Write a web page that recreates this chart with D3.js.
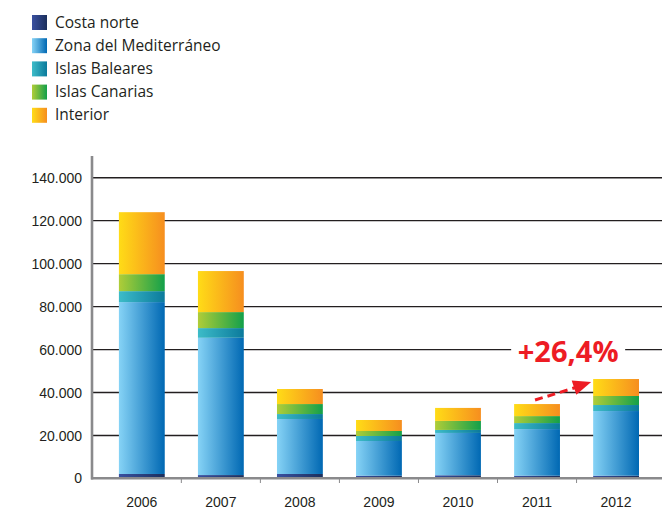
<!DOCTYPE html>
<html>
<head>
<meta charset="utf-8">
<script src="https://cdn.jsdelivr.net/npm/d3@7/dist/d3.min.js"></script>
<style>
  html, body { margin: 0; padding: 0; background: #fff; }
  svg { display: block; font-family: "Open Sans", "Noto Sans", sans-serif; }
</style>
</head>
<body>
<svg id="chart" width="662" height="510"></svg>
<script>
// Stacked totals per year by region
const years = ["2006", "2007", "2008", "2009", "2010", "2011", "2012"];
const seriesNames = ["Costa norte", "Zona del Mediterráneo", "Islas Baleares", "Islas Canarias", "Interior"];
const costaNorte    = [2100, 1600, 2100, 1300, 1500, 1300, 1300];
const mediterraneo  = [80000, 63900, 25600, 16150, 19700, 21700, 30100];
const baleares      = [5100, 4500, 2300, 2330, 1400, 2800, 2800];
const canarias      = [7900, 7450, 4650, 2330, 4200, 3250, 4200];
const interior      = [28850, 19100, 7000, 5120, 6050, 5600, 7900];
const yTicks = [0, 20000, 40000, 60000, 80000, 100000, 120000, 140000];
const yTickLabels = ["0", "20.000", "40.000", "60.000", "80.000", "100.000", "120.000", "140.000"];
const growthLabel = "+26,4%";

const seriesValues = [costaNorte, mediterraneo, baleares, canarias, interior];
// left / right colours of each segment's horizontal gradient
const gradStops = [
  ["#3a50a0", "#1b2f5c"],
  ["#86d3f6", "#0068b3"],
  ["#3dbcc8", "#0b7a9c"],
  ["#b0cd38", "#13a04a"],
  ["#ffdc17", "#f68e1f"]
];

const svg = d3.select("#chart");
const defs = svg.append("defs");
gradStops.forEach((c, i) => {
  const g = defs.append("linearGradient").attr("id", "g" + i)
    .attr("x1", "0%").attr("x2", "100%").attr("y1", "0%").attr("y2", "0%");
  g.append("stop").attr("offset", "0%").attr("stop-color", c[0]);
  g.append("stop").attr("offset", "100%").attr("stop-color", c[1]);
});

const rows = years.map((y, i) => {
  const r = { year: y };
  seriesNames.forEach((s, k) => r[s] = seriesValues[k][i]);
  return r;
});
const stacked = d3.stack().keys(seriesNames)(rows);

const x = d3.scaleBand().domain(years).range([102.3, 655.6]).paddingInner(0.42).paddingOuter(0.21);
const y = d3.scaleLinear().domain([0, 140000]).range([478.5, 177.7]);

// gridlines
svg.append("g").selectAll("line").data(yTicks.slice(1)).join("line")
  .attr("x1", 93).attr("x2", 662)
  .attr("y1", d => y(d)).attr("y2", d => y(d))
  .attr("stroke", "#231f20").attr("stroke-width", 1.4);

// bars
svg.append("g").selectAll("g").data(stacked).join("g")
  .attr("fill", (d, i) => `url(#g${i})`)
  .selectAll("rect").data(d => d).join("rect")
  .attr("x", d => x(d.data.year))
  .attr("width", x.bandwidth())
  .attr("y", d => y(d[1]))
  .attr("height", d => y(d[0]) - y(d[1]));

// y axis
const yAxis = d3.axisLeft(y).tickValues(yTicks)
  .tickFormat((d, i) => yTickLabels[i]).tickSize(0).tickPadding(10);
const yg = svg.append("g").attr("transform", "translate(92,0)").call(yAxis);
yg.select(".domain").remove();
yg.selectAll("text").attr("font-size", 14).attr("fill", "#231f20");
svg.append("line").attr("x1", 92).attr("x2", 92).attr("y1", 156).attr("y2", 479.5)
  .attr("stroke", "#8a8a8c").attr("stroke-width", 2.6);

// x axis
const xg = svg.append("g").attr("transform", "translate(0,478.5)")
  .call(d3.axisBottom(x).tickSize(0).tickPadding(19));
xg.select(".domain").remove();
xg.selectAll("text").attr("font-size", 14).attr("fill", "#231f20");
svg.append("line").attr("x1", 91).attr("x2", 662).attr("y1", 478.3).attr("y2", 478.3)
  .attr("stroke", "#8a8a8c").attr("stroke-width", 2.6);
// separators between categories
svg.append("g").selectAll("line").data(years.slice(1)).join("line")
  .attr("x1", d => x(d) - x.step() * x.paddingInner() / 2)
  .attr("x2", d => x(d) - x.step() * x.paddingInner() / 2)
  .attr("y1", 479).attr("y2", 483)
  .attr("stroke", "#8a8a8c").attr("stroke-width", 1);

// growth annotation
const last = years.length - 1;
const topPrev = y(d3.sum(seriesValues, s => s[last - 1]));
const topLast = y(d3.sum(seriesValues, s => s[last]));
const cx = x(years[last - 1]) + x.bandwidth() / 2;
const tipX = x(years[last]) - 2;
const startY = topPrev - 4, tipY = topLast + 3;
svg.append("line").attr("x1", cx - 2).attr("y1", startY)
  .attr("x2", tipX - 14).attr("y2", tipY + 5)
  .attr("stroke", "#ed1c24").attr("stroke-width", 3).attr("stroke-dasharray", "8,5");
svg.append("path")
  .attr("d", () => {
    const ang = Math.atan2(tipY - startY, tipX - (cx - 2));
    const len = 18, half = 7.5;
    const bx = tipX - len * Math.cos(ang), by = tipY - len * Math.sin(ang);
    const px = -Math.sin(ang) * half, py = Math.cos(ang) * half;
    return `M${tipX},${tipY} L${bx + px},${by + py} L${bx - px},${by - py} Z`;
  })
  .attr("fill", "#ed1c24");

const labelX = x(years[last]) - 25;
svg.append("rect").attr("x", labelX - 57).attr("y", y(60000) - 3).attr("width", 114).attr("height", 6).attr("fill", "#fff");
svg.append("text").attr("x", labelX).attr("y", y(60000) + 12)
  .attr("text-anchor", "middle").attr("font-size", 29).attr("font-weight", "bold")
  .attr("fill", "#ed1c24").text(growthLabel);

// legend
const lg = svg.append("g").attr("transform", "translate(32,15)");
const item = lg.selectAll("g").data(seriesNames).join("g")
  .attr("transform", (d, i) => `translate(0,${i * 23.2})`);
item.append("rect").attr("width", 15).attr("height", 15).attr("fill", (d, i) => `url(#g${i})`);
item.append("text").attr("x", 23).attr("y", 12.5).attr("font-size", 15.5).attr("fill", "#231f20").text(d => d);
</script>
</body>
</html>
